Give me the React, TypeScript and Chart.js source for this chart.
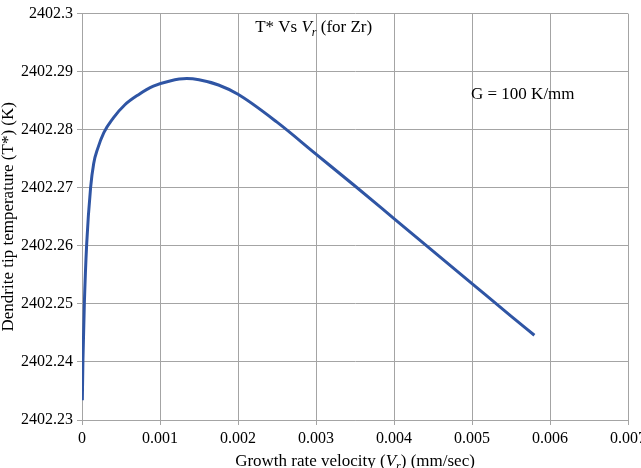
import React, { useEffect, useRef } from "react";
import { Chart, registerables } from "chart.js";

Chart.register(...registerables);

// Growth rate velocity V_r (mm/sec)
const velocity = [
  0.0000043, 0.000012, 0.00003, 0.00006, 0.00011, 0.00015, 0.0002, 0.00028,
  0.0004, 0.00055, 0.00072, 0.000915, 0.001128, 0.001342, 0.0015, 0.00175,
  0.002, 0.0025, 0.003, 0.0035, 0.004, 0.0045, 0.005, 0.0055, 0.0058,
];

// Dendrite tip temperature T* (K)
const tipTemperature = [
  2402.2334, 2402.2403, 2402.25, 2402.2603, 2402.27, 2402.2742, 2402.2767, 2402.2795,
  2402.282, 2402.2843, 2402.286, 2402.2875, 2402.2884, 2402.2888, 2402.2886, 2402.2877,
  2402.2861, 2402.2813, 2402.2758, 2402.2703, 2402.2647, 2402.2591, 2402.2535, 2402.2479,
  2402.2446,
];

const xTickValues = [0, 0.001, 0.002, 0.003, 0.004, 0.005, 0.006, 0.007];
const yTickValues = [2402.23, 2402.24, 2402.25, 2402.26, 2402.27, 2402.28, 2402.29, 2402.3];

const FONT = '"Liberation Serif", "Times New Roman", serif';
const TEXT_COLOR = "#000000";
const GRID_COLOR = "#a4a4a4";
const LINE_COLOR = "#2f55a4";

type Seg = { text: string; italic?: boolean; sub?: boolean };

const plotTitle: Seg[] = [
  { text: "T* Vs " },
  { text: "V", italic: true },
  { text: "r", italic: true, sub: true },
  { text: " (for Zr)" },
];
const gradientNote: Seg[] = [{ text: "G = 100 K/mm" }];
const xAxisTitle: Seg[] = [
  { text: "Growth rate velocity (" },
  { text: "V", italic: true },
  { text: "r", italic: true, sub: true },
  { text: ") (mm/sec)" },
];

// Annotation anchors in data units (left edge, vertical centre)
const titleAnchor = { x: 0.00222, y: 2402.2978 };
const noteAnchor = { x: 0.004987, y: 2402.2863 };

function drawRich(
  ctx: CanvasRenderingContext2D,
  segs: Seg[],
  x: number,
  centerY: number,
  size: number,
  align: "left" | "center"
) {
  const subSize = Math.round(size * 0.68);
  const fontFor = (s: Seg) =>
    `${s.italic ? "italic " : ""}${s.sub ? subSize : size}px ${FONT}`;
  const widths = segs.map((s) => {
    ctx.font = fontFor(s);
    return ctx.measureText(s.text).width;
  });
  const total = widths.reduce((a, b) => a + b, 0);
  let cx = align === "center" ? x - total / 2 : x;
  const baseline = centerY + size * 0.33;
  ctx.save();
  ctx.fillStyle = TEXT_COLOR;
  ctx.textBaseline = "alphabetic";
  ctx.textAlign = "left";
  segs.forEach((s, i) => {
    ctx.font = fontFor(s);
    ctx.fillText(s.text, cx, s.sub ? baseline + size * 0.24 : baseline);
    cx += widths[i];
  });
  ctx.restore();
}

const annotationPlugin = {
  id: "richLabels",
  afterDraw(chart: any) {
    const { ctx, chartArea, scales } = chart;
    const xs = scales.x;
    const ys = scales.y;
    drawRich(ctx, plotTitle, xs.getPixelForValue(titleAnchor.x), ys.getPixelForValue(titleAnchor.y), 17, "left");
    drawRich(ctx, gradientNote, xs.getPixelForValue(noteAnchor.x), ys.getPixelForValue(noteAnchor.y), 17, "left");
    drawRich(ctx, xAxisTitle, (chartArea.left + chartArea.right) / 2, 460, 17, "center");
  },
};

export default function App() {
  const canvasRef = useRef<HTMLCanvasElement | null>(null);

  useEffect(() => {
    if (!canvasRef.current) return;
    const points = velocity.map((v, i) => ({ x: v, y: tipTemperature[i] }));

    const chart = new Chart(canvasRef.current, {
      type: "line",
      data: {
        datasets: [
          {
            data: points,
            borderColor: LINE_COLOR,
            borderWidth: 3,
            pointRadius: 0,
            fill: false,
            cubicInterpolationMode: "monotone",
          },
        ],
      },
      options: {
        responsive: false,
        animation: false,
        layout: { padding: { top: 12, right: 13, bottom: 0, left: 0 } },
        plugins: {
          legend: { display: false },
          tooltip: { enabled: false },
          title: { display: false },
        },
        scales: {
          x: {
            type: "linear",
            min: 0,
            max: 0.007,
            afterBuildTicks: (scale: any) => {
              scale.ticks = xTickValues.map((v) => ({ value: v }));
            },
            afterFit: (scale: any) => {
              scale.height = 48;
              scale.paddingLeft = 0;
              scale.paddingRight = 0;
            },
            grid: { color: GRID_COLOR, lineWidth: 1, tickLength: 5, drawTicks: true },
            border: { color: GRID_COLOR, width: 1 },
            ticks: {
              color: TEXT_COLOR,
              font: { family: FONT, size: 16 },
              padding: 4,
              maxRotation: 0,
              autoSkip: false,
              callback: (v: any) => (Number(v) === 0 ? "0" : Number(v).toFixed(3)),
            },
          },
          y: {
            type: "linear",
            min: 2402.23,
            max: 2402.3,
            afterBuildTicks: (scale: any) => {
              scale.ticks = yTickValues.map((v) => ({ value: v }));
            },
            afterFit: (scale: any) => {
              scale.width = 82;
            },
            grid: { color: GRID_COLOR, lineWidth: 1, tickLength: 5, drawTicks: true },
            border: { color: GRID_COLOR, width: 1 },
            title: {
              display: true,
              text: "Dendrite tip temperature (T*) (K)",
              color: TEXT_COLOR,
              font: { family: FONT, size: 17, lineHeight: 1 },
              padding: { top: 0, bottom: 0 },
            },
            ticks: {
              color: TEXT_COLOR,
              font: { family: FONT, size: 16 },
              padding: 4,
              autoSkip: false,
              callback: (v: any) => Number(v).toFixed(2).replace(/0$/, ""),
            },
          },
        },
      },
      plugins: [annotationPlugin],
    } as any);

    return () => chart.destroy();
  }, []);

  return (
    <div style={{ position: "absolute", left: 0, top: 0, width: 641, height: 468, background: "#ffffff" }}>
      <canvas ref={canvasRef} width={641} height={468} style={{ display: "block" }} />
    </div>
  );
}
